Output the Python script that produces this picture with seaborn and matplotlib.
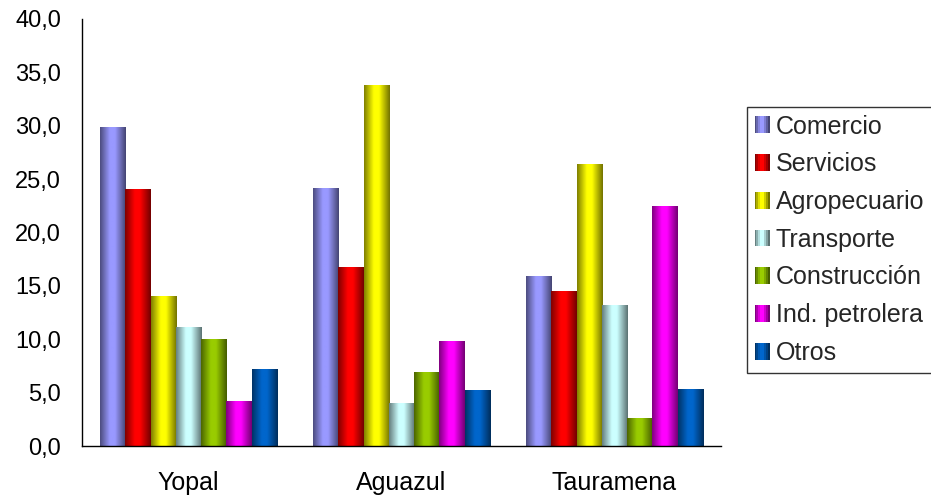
#!/usr/bin/env python3
"""Participacion por sector en Yopal, Aguazul y Tauramena (barras agrupadas)."""

import numpy as np
import pandas as pd
import matplotlib
matplotlib.use("Agg")
import matplotlib.pyplot as plt
import matplotlib.colors as mcolors
from matplotlib.patches import Rectangle
from matplotlib.legend_handler import HandlerBase
from matplotlib.ticker import FuncFormatter, FixedLocator
import seaborn as sns

municipios = ["Yopal", "Aguazul", "Tauramena"]
sectores = ["Comercio", "Servicios", "Agropecuario", "Transporte",
            "Construcción", "Ind. petrolera", "Otros"]
comercio = [29.8, 24.1, 15.9]
servicios = [24.0, 16.7, 14.5]
agropecuario = [14.0, 33.8, 26.4]
transporte = [11.1, 4.0, 13.2]
construccion = [10.0, 6.9, 2.6]
ind_petrolera = [4.2, 9.8, 22.4]
otros = [7.2, 5.2, 5.3]

colores = ["#9999FF", "#FF0000", "#FFFF00", "#CCFFFF",
           "#99CC00", "#FF00FF", "#0066CC"]

series = [comercio, servicios, agropecuario, transporte,
          construccion, ind_petrolera, otros]
rows = []
for sector, vals in zip(sectores, series):
    for mun, v in zip(municipios, vals):
        rows.append({"Municipio": mun, "Sector": sector, "Valor": v})
df = pd.DataFrame(rows)


def gradient_row(color, n=64):
    # dark edges, bright band a bit left of centre (Excel style)
    t = np.linspace(0, 1, n)
    f = np.interp(t, [0, 0.38, 0.58, 1], [0.5, 1.0, 1.0, 0.45])
    rgb = np.array(mcolors.to_rgb(color))
    return (f[:, None] * rgb[None, :])[None, :, :]


class GradientHandler(HandlerBase):
    def create_artists(self, legend, orig_handle, xdescent, ydescent,
                       width, height, fontsize, trans):
        color = orig_handle.get_facecolor()
        img = gradient_row(color, 8)[0]
        arts = []
        n = len(img)
        for i, c in enumerate(img):
            arts.append(Rectangle((-xdescent + i * width / n, -ydescent),
                                  width / n, height, facecolor=c,
                                  edgecolor="none", transform=trans))
        return arts


sns.set_style("white")
plt.rcParams["font.family"] = ["Liberation Sans", "DejaVu Sans"]

fig = plt.figure(figsize=(9.31, 4.96), dpi=100)
ax = fig.add_axes([82 / 931, 50 / 496, 639 / 931, 427 / 496])

sns.barplot(data=df, x="Municipio", y="Valor", hue="Sector",
            hue_order=sectores, order=municipios, palette=colores,
            width=0.83, gap=0, saturation=1, ax=ax, legend=False,
            edgecolor="none")

# gradient fill on top of every bar
for patch in list(ax.patches):
    x, y = patch.get_x(), patch.get_y()
    w, h = patch.get_width(), patch.get_height()
    if h <= 0:
        continue
    img = gradient_row(patch.get_facecolor())
    ax.imshow(img, extent=[x, x + w, y, y + h], aspect="auto",
              zorder=patch.get_zorder() + 0.1, interpolation="bilinear")

ax.set_xlim(-0.5, 2.5)
ax.set_ylim(0, 40)
ax.set_xlabel("")
ax.set_ylabel("")
ax.set_yticks(np.arange(0, 41, 5))
ax.yaxis.set_major_formatter(FuncFormatter(lambda v, _: f"{v:.1f}".replace(".", ",")))

# category separators as major ticks, labels on minor ticks
ax.xaxis.set_major_locator(FixedLocator([-0.5, 0.5, 1.5, 2.5]))
ax.xaxis.set_minor_locator(FixedLocator([0, 1, 2]))
ax.set_xticklabels([], minor=False)
ax.set_xticklabels(municipios, minor=True)
ax.tick_params(axis="x", which="major", length=7, width=1, color="#808080",
               direction="out")
ax.tick_params(axis="x", which="minor", length=0, labelsize=18, pad=18,
               labelcolor="black")
ax.tick_params(axis="y", length=7, width=1, color="black", direction="out",
               labelsize=17, pad=8, labelcolor="black")

sns.despine(ax=ax)
for s in ["left", "bottom"]:
    ax.spines[s].set_color("black")
    ax.spines[s].set_linewidth(1)

handles = [Rectangle((0, 0), 1, 1, facecolor=c) for c in colores]
leg = fig.legend(handles, sectores, loc="upper left",
                 bbox_to_anchor=(747 / 931, 1 - 107 / 496),
                 handler_map={Rectangle: GradientHandler()},
                 fontsize=18, frameon=True, fancybox=False, shadow=False,
                 handlelength=0.6, handleheight=0.65, handletextpad=0.25,
                 labelspacing=0.55, borderpad=0.3, borderaxespad=0)
leg.get_frame().set_edgecolor("black")
leg.get_frame().set_linewidth(1)

fig.savefig("out.png", dpi=100, facecolor="white")
